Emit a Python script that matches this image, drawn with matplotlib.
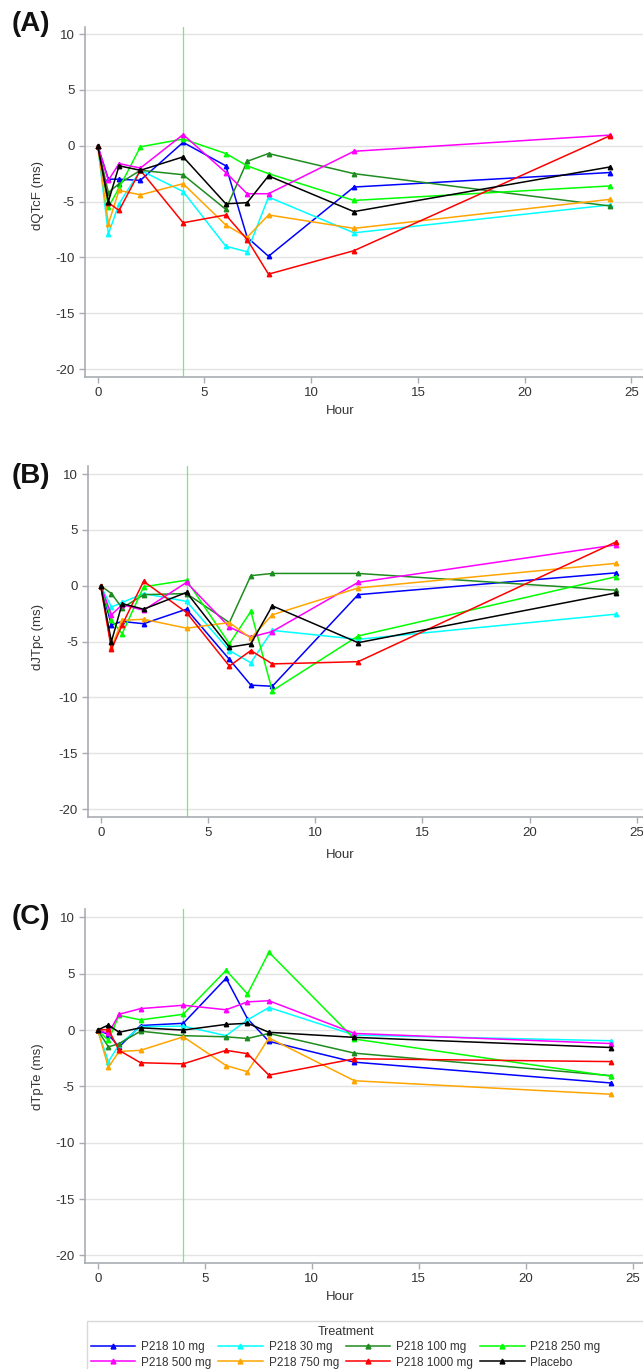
import matplotlib
matplotlib.use("Agg")
import matplotlib.pyplot as plt
from matplotlib.lines import Line2D
from matplotlib.patches import Rectangle

plt.rcParams['font.family'] = ['Liberation Sans', 'DejaVu Sans']
plt.rcParams['axes.unicode_minus'] = False

hours = [0, 0.5, 1, 2, 4, 6, 7, 8, 12, 24]
treatments = ["P218 10 mg", "P218 30 mg", "P218 100 mg", "P218 250 mg",
              "P218 500 mg", "P218 750 mg", "P218 1000 mg", "Placebo"]
colors = ["#0000ff", "#00ffff", "#1e8c1e", "#00ff00",
          "#ff00ff", "#ffa500", "#ff0000", "#000000"]

# Panel A: dQTcF (ms)
qtcf = {
    "P218 10 mg":   [0, -3.0, -3.0, -3.1, 0.3, -1.8, -8.2, -9.9, -3.7, -2.4],
    "P218 30 mg":   [0, -7.9, -5.2, -2.2, -4.1, -9.0, -9.5, -4.6, -7.8, -5.3],
    "P218 100 mg":  [0, -4.2, -3.4, -2.2, -2.6, -5.7, -1.4, -0.7, -2.5, -5.4],
    "P218 250 mg":  [0, -5.5, -3.8, -0.1, 0.6, -0.7, -1.8, -2.5, -4.9, -3.6],
    "P218 500 mg":  [0, -3.1, -1.6, -2.0, 1.0, -2.4, -4.3, -4.3, -0.5, 0.95],
    "P218 750 mg":  [0, -7.0, -4.0, -4.4, -3.4, -7.1, -8.2, -6.2, -7.4, -4.8],
    "P218 1000 mg": [0, -5.1, -5.8, -2.2, -6.9, -6.2, -8.4, -11.5, -9.4, 0.9],
    "Placebo":      [0, -5.0, -1.8, -2.2, -1.0, -5.2, -5.1, -2.7, -5.9, -1.9],
}

# Panel B: dJTpc (ms)
jtpc = {
    "P218 10 mg":   [0, -3.5, -3.2, -3.4, -2.1, -6.6, -8.9, -9.0, -0.8, 1.15],
    "P218 30 mg":   [0, -1.9, -1.5, -0.7, -1.4, -5.8, -6.9, -4.0, -4.8, -2.55],
    "P218 100 mg":  [0, -0.7, -2.0, -0.8, -0.7, -3.3, 0.9, 1.1, 1.1, -0.4],
    "P218 250 mg":  [0, -3.1, -4.3, -0.1, 0.5, -5.2, -2.3, -9.4, -4.5, 0.8],
    "P218 500 mg":  [0, -2.6, -1.7, -2.2, 0.3, -3.7, -4.6, -4.1, 0.3, 3.65],
    "P218 750 mg":  [0, -5.5, -3.1, -3.0, -3.8, -3.3, -4.7, -2.6, -0.2, 2.0],
    "P218 1000 mg": [0, -5.7, -3.5, 0.4, -2.4, -7.2, -5.8, -7.0, -6.8, 3.9],
    "Placebo":      [0, -5.0, -1.6, -2.1, -0.6, -5.5, -5.2, -1.8, -5.1, -0.65],
}

# Panel C: dTpTe (ms)
tpte = {
    "P218 10 mg":   [0, -0.4, -1.5, 0.4, 0.6, 4.6, 1.0, -1.0, -2.85, -4.7],
    "P218 30 mg":   [0, -2.8, -1.3, 0.3, 0.35, -0.5, 0.9, 2.0, -0.45, -0.95],
    "P218 100 mg":  [0, -1.5, -1.2, -0.1, -0.5, -0.6, -0.75, -0.3, -2.05, -4.05],
    "P218 250 mg":  [0, -0.9, 1.3, 0.9, 1.4, 5.3, 3.2, 6.9, -0.8, -4.1],
    "P218 500 mg":  [0, -0.3, 1.4, 1.9, 2.2, 1.8, 2.5, 2.6, -0.3, -1.2],
    "P218 750 mg":  [0, -3.3, -1.9, -1.8, -0.6, -3.15, -3.7, -0.7, -4.5, -5.7],
    "P218 1000 mg": [0, 0.05, -1.8, -2.9, -3.0, -1.8, -2.1, -4.0, -2.55, -2.8],
    "Placebo":      [0, 0.45, -0.2, 0.2, 0.0, 0.5, 0.6, -0.2, -0.65, -1.55],
}

panel_labels = ["(A)", "(B)", "(C)"]
y_labels = ["dQTcF (ms)", "dJTpc (ms)", "dTpTe (ms)"]
datasets = [qtcf, jtpc, tpte]
x_ticks = [0, 5, 10, 15, 20, 25]
y_ticks = [-20, -15, -10, -5, 0, 5, 10]
dose_line = 4

W, H = 643, 1369
fig = plt.figure(figsize=(W / 100, H / 100), dpi=100)

# (left px, top px, bottom px, x0 px, px per hour, ylim)
geo = [
    (85, 27, 377, 97.7, 21.35, (-20.71, 10.63)),
    (88.3, 466, 816.7, 100.7, 21.45, (-20.68, 10.72)),
    (85, 909, 1263, 97.7, 21.4, (-20.67, 10.74)),
]
label_y = [24, 476, 917]
ylabel_center = [195, 637, 1077]
xlabel_y = [411, 855, 1297]

grey = "#a9adb3"
txt = "#333333"
fs = 9.5
lfs = 8.5

for i, (data, g) in enumerate(zip(datasets, geo)):
    left, top, bottom, x0, pph, ylim = g
    ax = fig.add_axes([left / W, 1 - bottom / H, (W - left) / W, (bottom - top) / H])
    xmin = -(x0 - left) / pph
    xmax = xmin + (W - left) / pph
    ax.set_xlim(xmin, xmax)
    ax.set_ylim(*ylim)
    ax.set_xticks(x_ticks)
    ax.set_yticks(y_ticks)
    ax.grid(axis='y', color="#e3e3e3", linewidth=1.0)
    ax.set_axisbelow(True)
    for s in ["top", "right"]:
        ax.spines[s].set_visible(False)
    for s in ["left", "bottom"]:
        ax.spines[s].set_color(grey)
        ax.spines[s].set_linewidth(1.2)
    ax.tick_params(axis='both', colors=grey, labelcolor=txt, labelsize=fs,
                   length=4, width=1)
    ax.axvline(dose_line, color="#70f070", linewidth=0.9, zorder=1)
    for name, c in zip(treatments, colors):
        ax.plot(hours, data[name], color=c, linewidth=1.1, marker='^',
                markersize=3.2, zorder=3)
    ax.set_ylabel(y_labels[i], fontsize=fs, color=txt)
    ax.yaxis.set_label_coords((38 - left) / (W - left),
                              (bottom - ylabel_center[i]) / (bottom - top))
    ax.yaxis.label.set_verticalalignment('center')
    ax.set_xlabel("Hour", fontsize=fs, color=txt)
    ax.xaxis.set_label_coords((340 - left) / (W - left),
                              -(xlabel_y[i] - bottom) / (bottom - top))
    ax.xaxis.label.set_verticalalignment('center')
    fig.text(12 / W, 1 - label_y[i] / H, panel_labels[i], fontsize=20,
             fontweight='bold', va='center', ha='left', color="#111111")

# legend frame extending past the right/bottom edge as in the reference
fig.patches.append(Rectangle((87 / W, -0.01), (W + 10 - 87) / W,
                             0.01 + (H - 1321) / H, transform=fig.transFigure,
                             facecolor="white", edgecolor="#d8d8d8",
                             linewidth=1.0, zorder=0))

handles = [Line2D([0], [0], color=c, linewidth=1.1, marker='^', markersize=3.5)
           for c in colors]
order = [0, 4, 1, 5, 2, 6, 3, 7]
leg = fig.legend([handles[k] for k in order], [treatments[k] for k in order],
                 ncol=4, loc='upper left',
                 bbox_to_anchor=(87 / W, 1 - 1322 / H), title="Treatment",
                 fontsize=lfs, title_fontsize=lfs + 0.5, frameon=False,
                 handlelength=3.8, handletextpad=0.5, columnspacing=0.55,
                 labelspacing=0.3, borderpad=0.3, borderaxespad=0)
for t in leg.get_texts():
    t.set_color(txt)
leg.get_title().set_color(txt)

fig.savefig("out.png", dpi=100)
